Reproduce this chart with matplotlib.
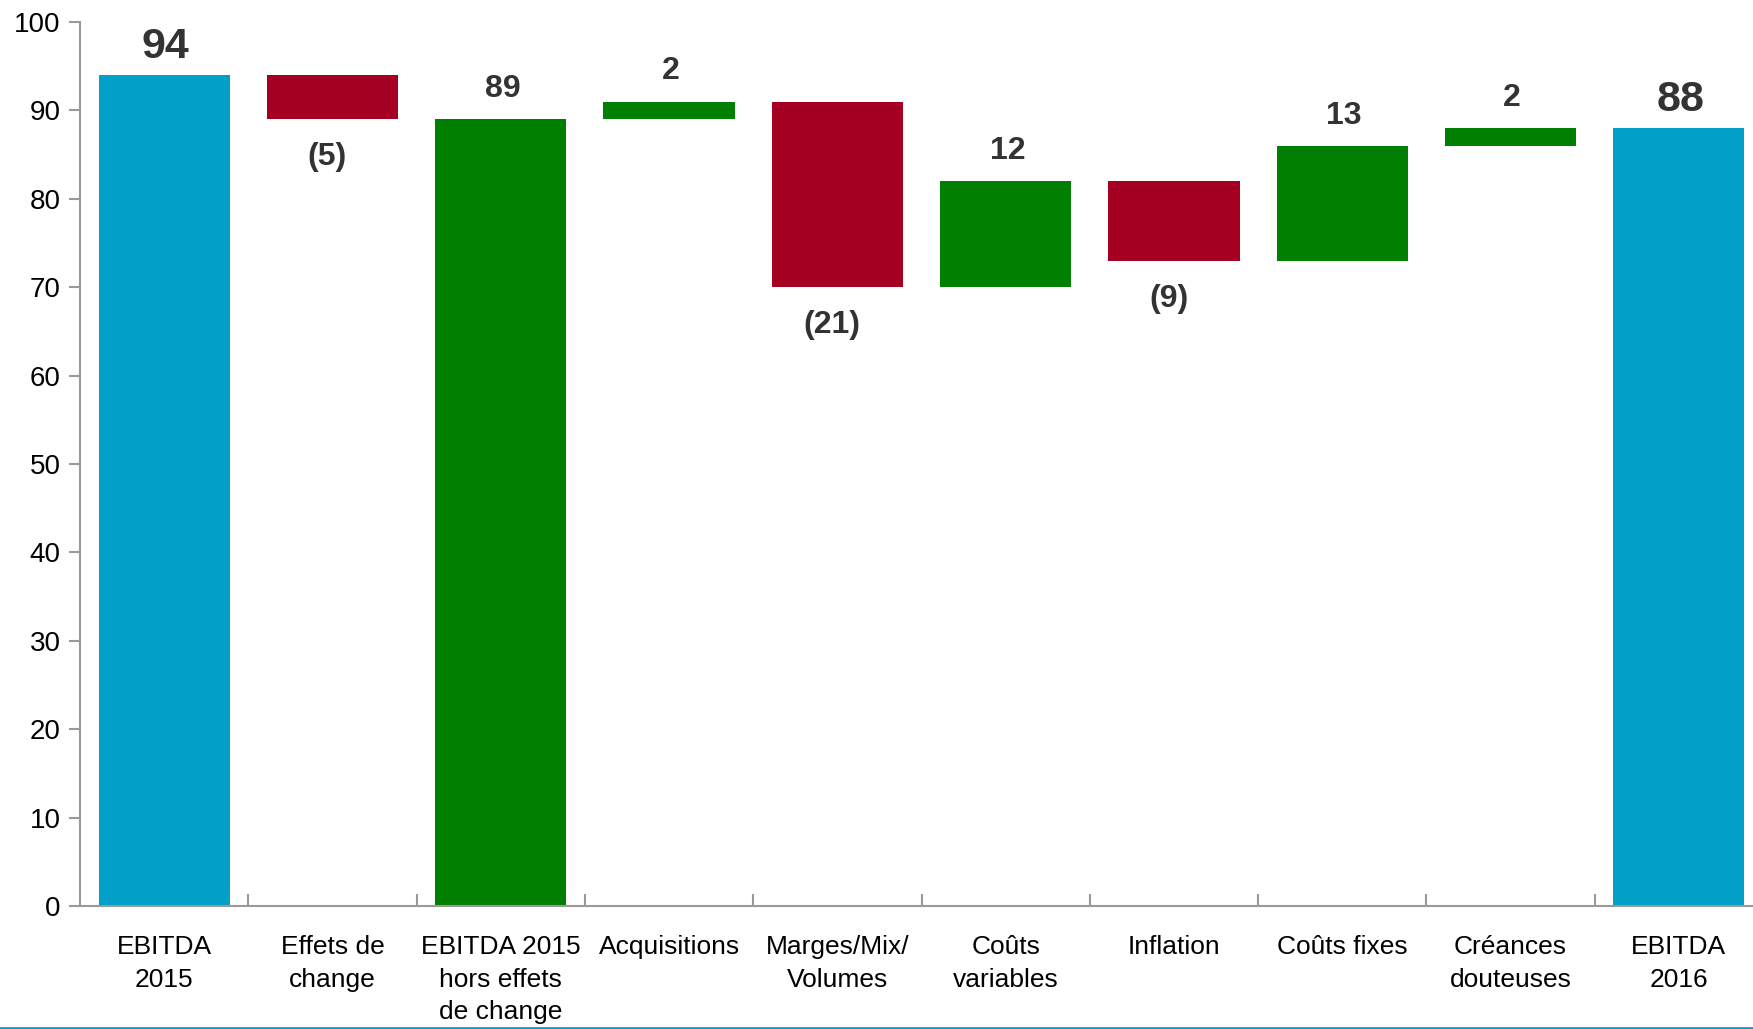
import matplotlib
matplotlib.use('Agg')
import matplotlib.pyplot as plt
import numpy as np
from matplotlib.lines import Line2D

plt.rcParams['font.family'] = ['Liberation Sans', 'DejaVu Sans']

categories = ['EBITDA\n2015', 'Effets de\nchange', 'EBITDA 2015\nhors effets\nde change',
              'Acquisitions', 'Marges/Mix/\nVolumes', 'Coûts\nvariables', 'Inflation',
              'Coûts fixes', 'Créances\ndouteuses', 'EBITDA\n2016']
# kind: 'total' drawn from zero, 'delta' floating
kinds = ['total', 'delta', 'total', 'delta', 'delta', 'delta', 'delta', 'delta', 'delta', 'total']
values = [94, -5, 89, 2, -21, 12, -9, 13, 2, 88]
labels = ['94', '(5)', '89', '2', '(21)', '12', '(9)', '13', '2', '88']

BLUE = '#00A0C8'
RED = '#A50021'
GREEN = '#008000'

fig = plt.figure(figsize=(17.53, 10.29), dpi=100)
ax = fig.add_axes([80/1753, 123/1029, 1683/1753, 884/1029])

x = np.arange(len(categories))
bottoms = []
heights = []
colors = []
running = 0
for i, (k, v) in enumerate(zip(kinds, values)):
    if k == 'total':
        bottoms.append(0)
        heights.append(v)
        running = v
        colors.append(BLUE if i in (0, len(values) - 1) else GREEN)
    else:
        if v >= 0:
            bottoms.append(running)
            colors.append(GREEN)
        else:
            bottoms.append(running + v)
            colors.append(RED)
        heights.append(abs(v))
        running += v

ax.bar(x, heights, bottom=bottoms, width=0.78, color=colors, edgecolor='none', zorder=2)

for i in range(len(x)):
    top = bottoms[i] + heights[i]
    big = i in (0, len(x) - 1)
    if values[i] < 0 and kinds[i] == 'delta':
        ax.text(x[i] - 0.03, bottoms[i] - 4.3, labels[i], ha='center', va='center',
                fontsize=23, fontweight='bold', color='#333333')
    elif big:
        ax.text(x[i] + 0.01, top + 1.9, labels[i], ha='center', va='baseline',
                fontsize=31, fontweight='bold', color='#333333')
    else:
        ax.text(x[i] + 0.01, top + 2.5, labels[i], ha='center', va='baseline',
                fontsize=23, fontweight='bold', color='#333333')

ax.set_xlim(-0.5, len(x) - 0.5)
ax.set_ylim(0, 100)
ax.set_yticks(np.arange(0, 101, 10))

ax.set_xticks(x)
ax.set_xticklabels(categories, fontsize=19, linespacing=1.45)
ax.set_xticks(np.arange(0.5, len(x) - 0.5, 1), minor=True)

for s in ['top', 'right']:
    ax.spines[s].set_visible(False)
for s in ['left', 'bottom']:
    ax.spines[s].set_color('#999999')
    ax.spines[s].set_linewidth(1.5)

ax.tick_params(axis='y', labelsize=20, length=8, color='#999999', width=1.5, pad=6)
ax.tick_params(axis='x', which='major', length=0, pad=21)
ax.tick_params(axis='x', which='minor', direction='in', length=9, color='#999999', width=1.5)

fig.add_artist(Line2D([0, 1], [1.5/1029, 1.5/1029], color=BLUE, linewidth=2,
                      transform=fig.transFigure))

fig.savefig('out.png', dpi=100)
